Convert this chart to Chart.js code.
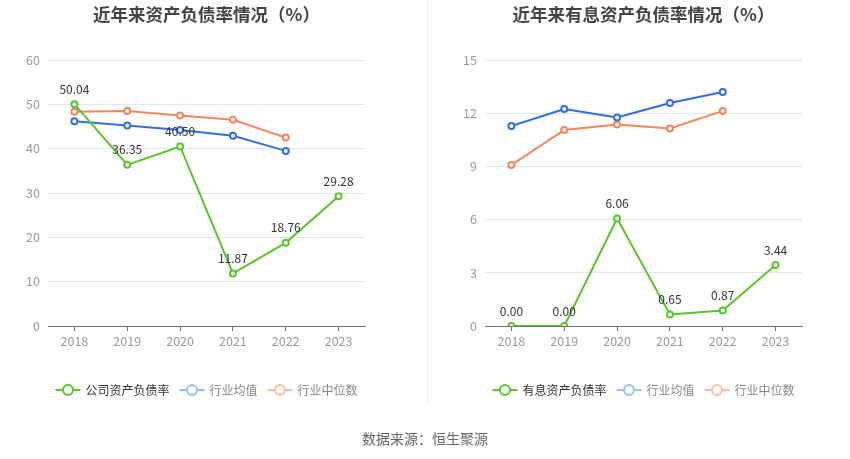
<!DOCTYPE html>
<html>
<head>
<meta charset="utf-8">
<script src="https://cdn.jsdelivr.net/npm/chart.js@4.4.0/dist/chart.umd.min.js"></script>
<style>
  body { margin: 0; background: #fff; }
  #wrap { position: relative; width: 850px; height: 459px; }
  canvas { position: absolute; top: 0; }
  #divider { position: absolute; left: 427px; top: 0; width: 1px; height: 405px; background: #eeeeee; }
  #source { position: absolute; left: 0; width: 850px; top: 428px; text-align: center;
            font: 14px "Noto Sans CJK SC", sans-serif; color: #666; }
</style>
</head>
<body>
<div id="wrap">
  <canvas id="left" style="left:0"></canvas>
  <div id="divider"></div>
  <canvas id="right" style="left:425px"></canvas>
  <div id="source">数据来源：恒生聚源</div>
</div>
<script>
var years = ["2018", "2019", "2020", "2021", "2022", "2023"];

// 资产负债率
var debtRatio = [50.04, 36.35, 40.50, 11.87, 18.76, 29.28];
var debtAvg = [46.2, 45.2, 44.2, 42.9, 39.5, null];
var debtMedian = [48.3, 48.5, 47.5, 46.5, 42.5, null];

// 有息资产负债率
var interestRatio = [0.00, 0.00, 6.06, 0.65, 0.87, 3.44];
var interestAvg = [11.28, 12.24, 11.76, 12.58, 13.2, null];
var interestMedian = [9.08, 11.05, 11.36, 11.14, 12.13, null];

var green = "#5ac42b";
var blue = "#2f6fe2";
var orange = "#f7855b";
var font = '"Noto Sans CJK SC", "Noto Sans", sans-serif';

function makeChart(id, title, names, series, yMax, yStep, yWidth, rightPad) {
    var colors = [green, blue, orange];
    var legendIcon = [green, "#9dbcf3", "#fcbfa3"];
    var legendText = ["#333", "#888", "#888"];

    var extras = {
        id: "extras",
        afterDatasetsDraw: function (chart) {
            var ctx = chart.ctx;
            // value labels for first series
            var meta = chart.getDatasetMeta(0);
            ctx.save();
            ctx.font = "12px " + font;
            ctx.fillStyle = "#333";
            ctx.textAlign = "center";
            ctx.textBaseline = "middle";
            meta.data.forEach(function (pt, i) {
                ctx.fillText(series[0][i].toFixed(2), pt.x, pt.y - 15);
            });
            ctx.restore();
        },
        afterDraw: function (chart) {
            var ctx = chart.ctx;
            var area = chart.chartArea;
            var cx = (area.left + area.right) / 2;
            ctx.save();
            // title
            ctx.font = "bold 17.5px " + font;
            ctx.fillStyle = "#444";
            ctx.textAlign = "center";
            ctx.textBaseline = "middle";
            ctx.fillText(title, cx, 14);

            // legend
            ctx.font = "12px " + font;
            var widths = names.map(function (n) { return 25 + 5 + ctx.measureText(n).width; });
            var total = widths.reduce(function (a, b) { return a + b; }, 0) + 10 * (names.length - 1);
            var x = cx - total / 2;
            var y = 390;
            ctx.textAlign = "left";
            names.forEach(function (n, i) {
                ctx.strokeStyle = legendIcon[i];
                ctx.lineWidth = 2;
                ctx.beginPath();
                ctx.moveTo(x, y);
                ctx.lineTo(x + 25, y);
                ctx.stroke();
                ctx.beginPath();
                ctx.arc(x + 12.5, y, 5, 0, Math.PI * 2);
                ctx.fillStyle = "#fff";
                ctx.fill();
                ctx.stroke();
                ctx.fillStyle = legendText[i];
                ctx.fillText(n, x + 30, y);
                x += widths[i] + 10;
            });
            ctx.restore();
        }
    };

    return new Chart(document.getElementById(id), {
        type: "line",
        data: {
            labels: years,
            datasets: series.map(function (s, i) {
                return {
                    label: names[i],
                    data: s,
                    borderColor: colors[i],
                    backgroundColor: "#fff",
                    pointBackgroundColor: "#fff",
                    pointBorderColor: colors[i],
                    pointRadius: 3,
                    pointBorderWidth: 2,
                    borderWidth: 2,
                    fill: false,
                    tension: 0,
                    order: i === 0 ? 0 : 1
                };
            })
        },
        options: {
            responsive: false,
            animation: false,
            layout: { padding: { left: 0, right: rightPad, top: 60, bottom: 0 } },
            plugins: {
                legend: { display: false },
                title: { display: false },
                tooltip: { enabled: false }
            },
            scales: {
                x: {
                    offset: true,
                    grid: { display: true, drawOnChartArea: false, drawTicks: true, tickLength: 5, color: "#6e7079" },
                    border: { display: true, color: "#6e7079", width: 1 },
                    ticks: { color: "#999", font: { size: 12.5, family: font }, padding: 3, maxRotation: 0 },
                    afterFit: function (scale) { scale.height = 459 - 326; }
                },
                y: {
                    min: 0,
                    max: yMax,
                    ticks: { stepSize: yStep, color: "#999", font: { size: 12.5, family: font }, padding: 8 },
                    grid: { color: "#e0e6f1", drawTicks: false },
                    border: { display: false },
                    afterFit: function (scale) { scale.width = yWidth; }
                }
            }
        },
        plugins: [extras]
    });
}

function setup(id) {
    var c = document.getElementById(id);
    c.width = 425;
    c.height = 459;
    c.style.width = "425px";
    c.style.height = "459px";
}
setup("left");
setup("right");

makeChart("left", "近年来资产负债率情况（%）",
    ["公司资产负债率", "行业均值", "行业中位数"],
    [debtRatio, debtAvg, debtMedian], 60, 10, 48, 60);

makeChart("right", "近年来有息资产负债率情况（%）",
    ["有息资产负债率", "行业均值", "行业中位数"],
    [interestRatio, interestAvg, interestMedian], 15, 3, 60, 48);
</script>
</body>
</html>
